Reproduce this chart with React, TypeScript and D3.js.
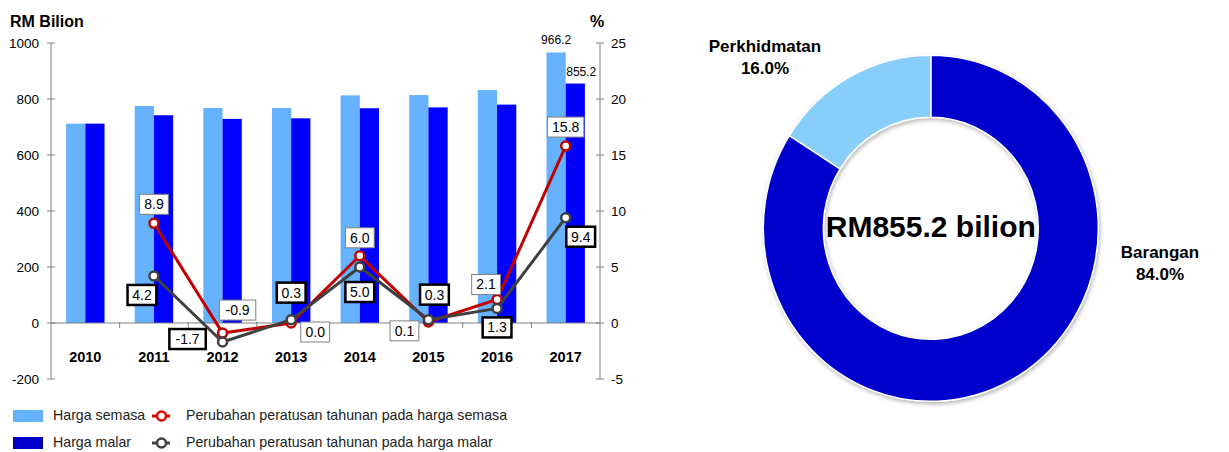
import React from 'react';
import * as d3 from 'd3';

const years = ['2010', '2011', '2012', '2013', '2014', '2015', '2016', '2017'];
const hargaSemasa = [712, 775, 768, 768, 813, 814, 832, 966.2];
const hargaMalar = [712, 742, 729, 731, 767, 770, 780, 855.2];
const lineYears = ['2011', '2012', '2013', '2014', '2015', '2016', '2017'];
const pctSemasa = [8.9, -0.9, 0.0, 6.0, 0.1, 2.1, 15.8];
const pctMalar = [4.2, -1.7, 0.3, 5.0, 0.3, 1.3, 9.4];
const leftTicks = [-200, 0, 200, 400, 600, 800, 1000];
const rightTicks = [-5, 0, 5, 10, 15, 20, 25];
const shareLabels = ['Barangan', 'Perkhidmatan'];
const shareValues = [84.0, 16.0];
const totalLabel = 'RM855.2 bilion';

// label box offsets from each point (dx, dy), placed by hand like the original
const semasaOffsets = [[0, -19], [15, -23], [24, 9], [0, -18], [-24, 9], [-11, -15], [0, -19]];
const malarOffsets = [[-12, 19], [-35, -3], [0, -27], [0, 25], [6, -25], [0, 19], [15, 19]];

const FONT = '"Liberation Sans", Arial, sans-serif';
const LIGHT = '#66B2FF';
const DARK = '#0000FF';
const RED = '#C00000';
const GREY = '#404040';

const App = () => {
  const left = 51, right = 600, top = 43, bottom = 379;

  const x = d3.scaleBand().domain(years).range([left, right]).paddingInner(0.44).paddingOuter(0.22);
  const xSub = d3.scaleBand().domain(['semasa', 'malar']).range([0, x.bandwidth()]);
  const yL = d3.scaleLinear().domain([-200, 1000]).range([bottom, top]);
  const yR = d3.scaleLinear().domain([-5, 25]).range([bottom, top]);
  const cx = (d) => x(d) + x.bandwidth() / 2;
  const step = x.step();

  const line = d3.line().x((d) => cx(d[0])).y((d) => yR(d[1]));
  const semasaPts = lineYears.map((y, i) => [y, pctSemasa[i]]);
  const malarPts = lineYears.map((y, i) => [y, pctMalar[i]]);

  // donut
  const dcx = 930.8, dcy = 228.3, outerR = 173, innerR = 111;
  const pie = d3.pie().sort(null).value((d) => d)(shareValues);
  const arc = d3.arc().innerRadius(innerR).outerRadius(outerR);

  const labelBox = (pts, offsets, boxed) =>
    pts.map((p, i) => {
      const t = p[1].toFixed(1);
      const w = t.length * 7.6 + 6;
      const h = 20;
      const bx = cx(p[0]) + offsets[i][0];
      const by = yR(p[1]) + offsets[i][1];
      return (
        <g key={`${boxed}-${i}`}>
          <rect
            x={bx - w / 2}
            y={by - h / 2}
            width={w}
            height={h}
            fill="#fff"
            stroke={boxed ? '#000' : '#808080'}
            strokeWidth={boxed ? 2.5 : 1}
          />
          <text x={bx} y={by + 5} textAnchor="middle" fontSize={14} fontFamily={FONT} fill="#000">
            {t}
          </text>
        </g>
      );
    });

  return (
    <svg width={1229} height={452} style={{ position: 'absolute', left: 0, top: 0 }}>
      <defs>
        <filter id="shadow" x="-10%" y="-10%" width="120%" height="120%">
          <feDropShadow dx="1" dy="2" stdDeviation="2" floodColor="#000" floodOpacity="0.3" />
        </filter>
        <linearGradient id="darkLeg" x1="0" y1="0" x2="1" y2="0">
          <stop offset="0" stopColor="#000099" />
          <stop offset="0.15" stopColor="#0000CC" />
          <stop offset="0.85" stopColor="#0000CC" />
          <stop offset="1" stopColor="#000099" />
        </linearGradient>
      </defs>

      {/* titles */}
      <text x={10} y={27} fontSize={16} fontWeight="bold" fontFamily={FONT}>RM Bilion</text>
      <text x={590} y={27} fontSize={16} fontWeight="bold" fontFamily={FONT}>%</text>

      {/* bars */}
      {years.map((yr, i) => (
        <g key={yr}>
          <rect
            x={x(yr) + xSub('semasa')}
            y={yL(hargaSemasa[i])}
            width={xSub.bandwidth()}
            height={yL(0) - yL(hargaSemasa[i])}
            fill={LIGHT}
          />
          <rect
            x={x(yr) + xSub('malar')}
            y={yL(hargaMalar[i])}
            width={xSub.bandwidth()}
            height={yL(0) - yL(hargaMalar[i])}
            fill={DARK}
          />
        </g>
      ))}
      <text
        x={x('2017') + xSub('semasa') + xSub.bandwidth() / 2}
        y={yL(hargaSemasa[7]) - 8}
        textAnchor="middle"
        fontSize={12}
        fontFamily={FONT}
      >
        {hargaSemasa[7].toFixed(1)}
      </text>
      <text
        x={x('2017') + xSub('malar') + xSub.bandwidth() / 2 + 6}
        y={yL(hargaMalar[7]) - 8}
        textAnchor="middle"
        fontSize={12}
        fontFamily={FONT}
      >
        {hargaMalar[7].toFixed(1)}
      </text>

      {/* axes */}
      <g stroke="#808080" strokeWidth={1}>
        <line x1={left} x2={left} y1={yL(1000)} y2={yL(-200)} />
        <line x1={right} x2={right} y1={yR(25)} y2={yR(-5)} />
        <line x1={left} x2={right} y1={yL(0)} y2={yL(0)} />
        {leftTicks.map((t) => (
          <line key={t} x1={left - 4} x2={left + 4} y1={yL(t)} y2={yL(t)} />
        ))}
        {rightTicks.map((t) => (
          <line key={t} x1={right - 4} x2={right + 4} y1={yR(t)} y2={yR(t)} />
        ))}
        {years.slice(1).map((yr) => (
          <line key={yr} x1={x(yr) - (step - x.bandwidth()) / 2} x2={x(yr) - (step - x.bandwidth()) / 2} y1={yL(0) - 1} y2={yL(0) + 5} />
        ))}
      </g>
      {leftTicks.map((t) => (
        <text key={t} x={39} y={yL(t) + 5} textAnchor="end" fontSize={13.5} fontFamily={FONT}>{t}</text>
      ))}
      {rightTicks.map((t) => (
        <text key={t} x={611} y={yR(t) + 5} fontSize={13.5} fontFamily={FONT}>{t}</text>
      ))}
      {years.map((yr) => (
        <text key={yr} x={cx(yr)} y={362} textAnchor="middle" fontSize={14.5} fontWeight="bold" fontFamily={FONT}>{yr}</text>
      ))}

      {/* lines */}
      <path d={line(semasaPts)} fill="none" stroke={RED} strokeWidth={3} />
      {semasaPts.map((p, i) => (
        <circle key={i} cx={cx(p[0])} cy={yR(p[1])} r={4.5} fill="#fff" stroke={RED} strokeWidth={2.5} />
      ))}
      <path d={line(malarPts)} fill="none" stroke={GREY} strokeWidth={3} />
      {malarPts.map((p, i) => (
        <circle key={i} cx={cx(p[0])} cy={yR(p[1])} r={4.5} fill="#fff" stroke={GREY} strokeWidth={2.5} />
      ))}
      {labelBox(semasaPts, semasaOffsets, false)}
      {labelBox(malarPts, malarOffsets, true)}

      {/* legend */}
      <rect x={13} y={410} width={30} height={12} fill={LIGHT} />
      <rect x={13} y={437} width={30} height={12} fill="url(#darkLeg)" />
      <text x={53} y={420} fontSize={14.2} fontFamily={FONT} fill="#222">Harga semasa</text>
      <text x={53} y={447} fontSize={14.2} fontFamily={FONT} fill="#222">Harga malar</text>
      <line x1={152} x2={170} y1={416} y2={416} stroke="#E00000" strokeWidth={3} />
      <circle cx={161.5} cy={416} r={4.5} fill="#fff" stroke="#E00000" strokeWidth={2.5} />
      <line x1={152} x2={170} y1={443} y2={443} stroke={GREY} strokeWidth={3} />
      <circle cx={161.5} cy={443} r={4.5} fill="#fff" stroke={GREY} strokeWidth={2.5} />
      <text x={186} y={420} fontSize={14.2} fontFamily={FONT} fill="#222">Perubahan peratusan tahunan pada harga semasa</text>
      <text x={186} y={447} fontSize={14.2} fontFamily={FONT} fill="#222">Perubahan peratusan tahunan pada harga malar</text>

      {/* donut */}
      <g transform={`translate(${dcx},${dcy}) scale(${167.5 / 173},1)`} filter="url(#shadow)">
        {pie.map((s, i) => (
          <path key={i} d={arc(s)} fill={i === 0 ? '#0000CC' : '#87CEFA'} stroke="#fff" strokeWidth={1.5} />
        ))}
      </g>
      <text x={dcx} y={237} textAnchor="middle" fontSize={30} fontWeight="bold" fontFamily={FONT}>{totalLabel}</text>
      <text x={765} y={52} textAnchor="middle" fontSize={17} fontWeight="bold" fontFamily={FONT}>{shareLabels[1]}</text>
      <text x={765} y={74} textAnchor="middle" fontSize={17} fontWeight="bold" fontFamily={FONT}>{shareValues[1].toFixed(1)}%</text>
      <text x={1160} y={258} textAnchor="middle" fontSize={17} fontWeight="bold" fontFamily={FONT}>{shareLabels[0]}</text>
      <text x={1160} y={280} textAnchor="middle" fontSize={17} fontWeight="bold" fontFamily={FONT}>{shareValues[0].toFixed(1)}%</text>
    </svg>
  );
};

export default App;
